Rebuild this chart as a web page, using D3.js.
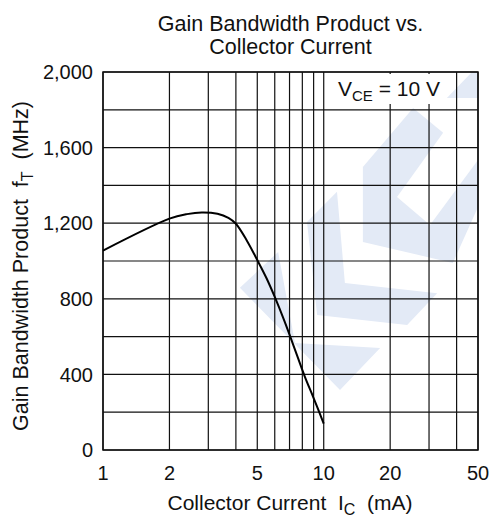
<!DOCTYPE html>
<html>
<head>
<meta charset="utf-8">
<script src="https://cdn.jsdelivr.net/npm/d3@7"></script>
<style>
  html, body { margin: 0; padding: 0; background: #fff; }
  svg { display: block; font-family: "Liberation Sans", Arial, sans-serif; }
  text { white-space: pre; }
</style>
</head>
<body>
<svg id="chart" width="492" height="519"></svg>
<script>
// collector current (mA) and gain bandwidth product fT (MHz)
var currentMA = [1, 2, 2.4, 2.8, 3.3, 3.7, 4, 4.5, 5, 5.5, 6, 6.6, 7, 7.6, 8.2, 9, 10];
var gainMHz = [1055, 1224, 1248, 1257, 1250, 1228, 1197, 1105, 1005, 910, 810, 690, 610, 495, 390, 275, 140];

var xGrid = [1, 2, 3, 4, 5, 6, 7, 8, 9, 10, 20, 30, 40, 50];
var xTickLabels = [1, 2, 5, 10, 20, 50];
var yGrid = d3.range(0, 2001, 200);
var yTickLabels = [0, 400, 800, 1200, 1600, 2000];

// faint logo watermark, in fractions of the plot box
var logoShapes = [
    [[0.365, 0.571], [0.467, 0.476], [0.512, 0.717], [0.739, 0.730], [0.632, 0.841]],
    [[0.544, 0.397], [0.624, 0.317], [0.645, 0.558], [0.891, 0.585], [0.811, 0.669], [0.571, 0.643]],
    [[0.693, 0.450], [0.693, 0.251], [0.827, 0.095], [0.907, 0.161], [0.784, 0.331], [0.872, 0.405], [1.0, 0.233], [1.0, 0.357], [0.933, 0.505]],
    [[0.917, 0.069], [0.984, 0.0], [1.0, 0.0], [1.0, 0.069]]
];

(function () {
    var svg = d3.select("#chart"),
        pLeft = 103, pRight = 478, pTop = 72, pBottom = 450;

    var x = d3.scaleLog().domain([1, 50]).range([pLeft, pRight]);
    var y = d3.scaleLinear().domain([0, 2000]).range([pBottom, pTop]);
    var fx = d3.scaleLinear().domain([0, 1]).range([pLeft, pRight]);
    var fy = d3.scaleLinear().domain([0, 1]).range([pTop, pBottom]);

    svg.append("g").selectAll("path")
        .data(logoShapes)
        .enter().append("path")
        .attr("fill", "#e3eaf6")
        .attr("d", d => "M" + d.map(p => fx(p[0]) + "," + fy(p[1])).join("L") + "Z");

    // grid
    svg.append("g").selectAll("line")
        .data(yGrid)
        .enter().append("line")
        .attr("x1", pLeft).attr("x2", pRight)
        .attr("y1", d => y(d)).attr("y2", d => y(d))
        .attr("stroke", "#111").attr("stroke-width", 1.2);

    svg.append("g").selectAll("line")
        .data(xGrid)
        .enter().append("line")
        .attr("x1", d => x(d)).attr("x2", d => x(d))
        .attr("y1", pTop).attr("y2", pBottom)
        .attr("stroke", "#111").attr("stroke-width", 1.2);

    svg.append("rect")
        .attr("x", pLeft).attr("y", pTop)
        .attr("width", pRight - pLeft).attr("height", pBottom - pTop)
        .attr("fill", "none").attr("stroke", "#111").attr("stroke-width", 1.5);

    // curve
    var line = d3.line()
        .x(d => x(d[0]))
        .y(d => y(d[1]))
        .curve(d3.curveCatmullRom.alpha(0.5));

    svg.append("path")
        .datum(d3.zip(currentMA, gainMHz))
        .attr("fill", "none")
        .attr("stroke", "#000")
        .attr("stroke-width", 2)
        .attr("d", line);

    // condition label
    svg.append("rect")
        .attr("x", 333).attr("y", 74)
        .attr("width", 114).attr("height", 30)
        .attr("fill", "#fff");

    var vce = svg.append("text")
        .attr("x", 338).attr("y", 96)
        .attr("font-size", 21).attr("fill", "#111");
    vce.append("tspan").text("V");
    vce.append("tspan").attr("dy", 5).attr("font-size", 15).text("CE");
    vce.append("tspan").attr("dy", -5).text(" = 10 V");

    // tick labels
    svg.append("g").selectAll("text")
        .data(xTickLabels)
        .enter().append("text")
        .attr("x", d => x(d)).attr("y", 480)
        .attr("text-anchor", "middle")
        .attr("font-size", 20).attr("fill", "#111")
        .text(d => d);

    svg.append("g").selectAll("text")
        .data(yTickLabels)
        .enter().append("text")
        .attr("x", 93).attr("y", d => y(d))
        .attr("dy", "0.36em")
        .attr("text-anchor", "end")
        .attr("font-size", 20).attr("fill", "#111")
        .text(d => d3.format(",")(d));

    // titles
    var title = svg.append("text")
        .attr("text-anchor", "middle")
        .attr("font-size", 21.5).attr("fill", "#111");
    title.append("tspan").attr("x", 290.5).attr("y", 31).text("Gain Bandwidth Product vs.");
    title.append("tspan").attr("x", 290.5).attr("y", 54).text("Collector Current");

    var xLabel = svg.append("text")
        .attr("x", 290).attr("y", 510)
        .attr("text-anchor", "middle")
        .attr("font-size", 21).attr("fill", "#111");
    xLabel.append("tspan").text("Collector Current  I");
    xLabel.append("tspan").attr("dy", 5).attr("font-size", 16).text("C");
    xLabel.append("tspan").attr("dy", -5).text("  (mA)");

    var yLabel = svg.append("text")
        .attr("transform", "translate(28,266) rotate(-90)")
        .attr("text-anchor", "middle")
        .attr("font-size", 21.5).attr("fill", "#111");
    yLabel.append("tspan").text("Gain Bandwidth Product  f");
    yLabel.append("tspan").attr("dy", 5).attr("font-size", 16).text("T");
    yLabel.append("tspan").attr("dy", -5).text("  (MHz)");
})();
</script>
</body>
</html>
